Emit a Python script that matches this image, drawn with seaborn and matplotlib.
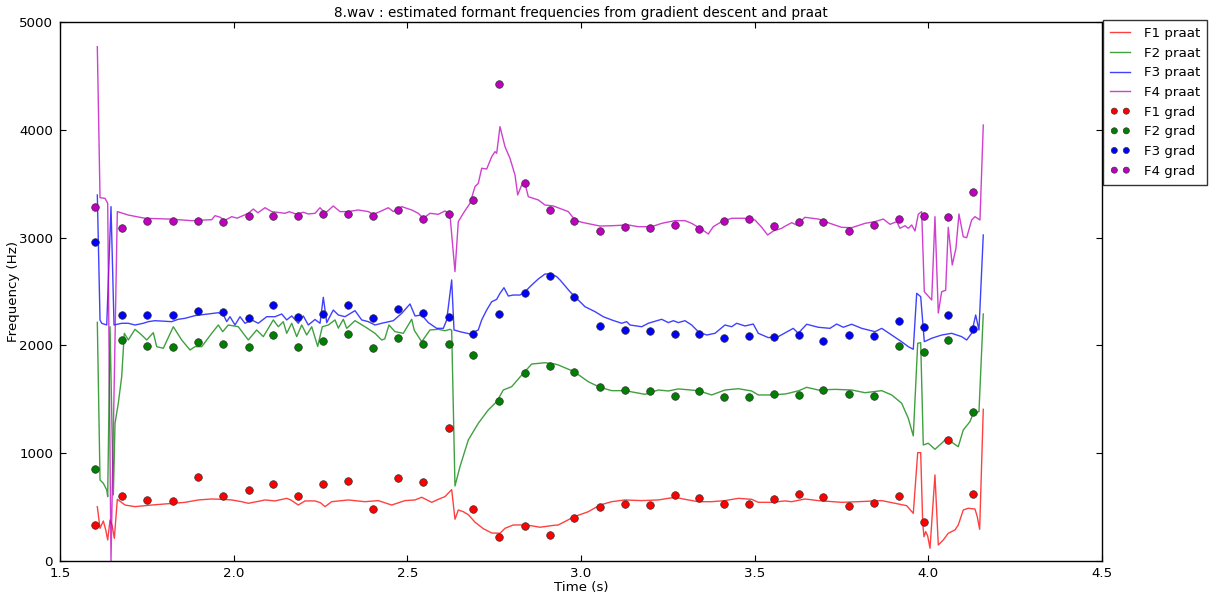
import matplotlib
matplotlib.use("Agg")
import matplotlib.pyplot as plt
import seaborn as sns

# ---- Praat formant tracks (time in s, frequency in Hz) ----
praat_t_f1 = [1.6074, 1.6152, 1.6247, 1.6316, 1.6373, 1.6440, 1.6500, 1.6564, 1.6650, 1.6678,
              1.6871, 1.7159, 1.7640, 1.8262, 1.8599, 1.8982, 1.9368, 1.9684, 1.9943, 2.0231,
              2.0421, 2.0663, 2.0902, 2.1190, 2.1527, 2.1650, 2.1861, 2.2054, 2.2342, 2.2500,
              2.2630, 2.2822, 2.3300, 2.3781, 2.4164, 2.4550, 2.4933, 2.5221, 2.5414, 2.5702,
              2.5892, 2.6085, 2.6277, 2.6372, 2.6468, 2.6611, 2.6755, 2.6948, 2.7186, 2.7429,
              2.7668, 2.7812, 2.8051, 2.8436, 2.8820, 2.9205, 2.9347, 2.9807, 3.0210, 3.0547,
              3.0884, 3.1267, 3.1748, 3.2226, 3.2706, 3.2994, 3.3377, 3.3763, 3.4146, 3.4529,
              3.4915, 3.5105, 3.5490, 3.5873, 3.6066, 3.6449, 3.6832, 3.7506, 3.7986, 3.8659,
              3.9041, 3.9378, 3.9568, 3.9695, 3.9781, 3.9839, 3.9876, 3.9925, 3.9983, 4.0049,
              4.0192, 4.0288, 4.0431, 4.0575, 4.0768, 4.0863, 4.1007, 4.1150, 4.1344, 4.1410,
              4.1479, 4.1583]
praat_f1 = [504, 303, 371, 288, 195, 380, 330, 210, 572, 566,
            519, 504, 519, 535, 544, 566, 575, 572, 566, 550,
            535, 550, 566, 557, 581, 565, 519, 557, 557, 540,
            504, 550, 566, 550, 560, 519, 560, 566, 591, 544,
            572, 597, 662, 387, 473, 457, 430, 360, 300, 260,
            257, 303, 334, 334, 313, 330, 334, 411, 457, 519,
            550, 566, 560, 566, 591, 572, 550, 550, 560, 581,
            572, 544, 544, 557, 550, 575, 560, 544, 550, 560,
            535, 513, 442, 1005, 1005, 350, 225, 272, 232, 118,
            798, 148, 195, 257, 288, 334, 473, 489, 482, 411,
            294, 1407]

praat_t_f2 = [1.6074, 1.6152, 1.6247, 1.6345, 1.6373, 1.6440, 1.6535, 1.6584, 1.6678, 1.6776,
              1.6851, 1.6966, 1.7159, 1.7352, 1.7496, 1.7686, 1.7784, 1.7974, 1.8262, 1.8504,
              1.8743, 1.8887, 1.9080, 1.9368, 1.9558, 1.9684, 1.9846, 2.0133, 2.0421, 2.0663,
              2.0853, 2.1141, 2.1285, 2.1429, 2.1527, 2.1671, 2.1815, 2.1959, 2.2103, 2.2247,
              2.2420, 2.2552, 2.2725, 2.2918, 2.3013, 2.3157, 2.3254, 2.3493, 2.3781, 2.4069,
              2.4262, 2.4350, 2.4472, 2.4645, 2.4884, 2.5126, 2.5200, 2.5414, 2.5653, 2.5892,
              2.6085, 2.6228, 2.6277, 2.6372, 2.6516, 2.6755, 2.7043, 2.7331, 2.7573, 2.7763,
              2.8005, 2.8293, 2.8581, 2.8964, 2.9252, 2.9347, 2.9807, 3.0210, 3.0547, 3.0884,
              3.1267, 3.1843, 3.2226, 3.2516, 3.2802, 3.3377, 3.3763, 3.4146, 3.4529, 3.4915,
              3.5105, 3.5490, 3.5873, 3.5968, 3.6276, 3.6498, 3.6832, 3.7313, 3.7794, 3.8178,
              3.8659, 3.8946, 3.9233, 3.9424, 3.9568, 3.9695, 3.9781, 3.9856, 4.0000, 4.0192,
              4.0385, 4.0529, 4.0719, 4.0863, 4.1007, 4.1199, 4.1294, 4.1459, 4.1583]
praat_f2 = [2214, 751, 721, 659, 597, 2173, 612, 1277, 1463, 1710,
            2112, 2050, 2149, 2096, 2050, 2118, 1988, 1973, 2173, 2050,
            1957, 1988, 1988, 2112, 2189, 2127, 2189, 2173, 2050, 2143,
            2081, 2236, 2173, 2220, 2112, 2205, 2081, 2189, 2096, 2173,
            1990, 2173, 2189, 2236, 2160, 2242, 2158, 2229, 2173, 2112,
            2050, 2060, 2189, 2127, 2112, 2242, 2140, 2034, 2143, 2149,
            2136, 2149, 2140, 696, 875, 1122, 1277, 1401, 1478, 1586,
            1617, 1725, 1827, 1839, 1827, 1818, 1756, 1663, 1611, 1580,
            1580, 1546, 1586, 1577, 1596, 1580, 1540, 1586, 1598, 1577,
            1540, 1540, 1549, 1555, 1580, 1611, 1586, 1592, 1586, 1561,
            1580, 1540, 1463, 1324, 1160, 2019, 2025, 1076, 1092, 1036,
            1092, 1138, 1092, 1060, 1215, 1292, 1370, 1385, 2291]

praat_t_f3 = [1.6074, 1.6152, 1.6201, 1.6345, 1.6468, 1.6555, 1.6776, 1.6966, 1.7159, 1.7398,
              1.7542, 1.7735, 1.8216, 1.8406, 1.8599, 1.8887, 1.9270, 1.9558, 1.9707, 1.9800,
              1.9894, 2.0038, 2.0182, 2.0326, 2.0519, 2.0709, 2.0951, 2.1190, 2.1383, 2.1527,
              2.1671, 2.1861, 2.2005, 2.2149, 2.2342, 2.2486, 2.2581, 2.2679, 2.2868, 2.3013,
              2.3205, 2.3493, 2.3686, 2.3876, 2.4069, 2.4262, 2.4596, 2.4838, 2.5077, 2.5221,
              2.5414, 2.5604, 2.5846, 2.6036, 2.6134, 2.6277, 2.6344, 2.6516, 2.6804, 2.7043,
              2.7141, 2.7285, 2.7429, 2.7573, 2.7668, 2.7783, 2.7907, 2.8051, 2.8244, 2.8388,
              2.8581, 2.8771, 2.8964, 2.9157, 2.9301, 2.9396, 2.9683, 3.0115, 3.0403, 3.0642,
              3.0884, 3.1172, 3.1316, 3.1411, 3.1748, 3.1938, 3.2324, 3.2516, 3.2660, 3.2802,
              3.2994, 3.3187, 3.3377, 3.3619, 3.3858, 3.4146, 3.4339, 3.4483, 3.4722, 3.4961,
              3.5105, 3.5393, 3.5680, 3.5873, 3.6112, 3.6256, 3.6498, 3.6832, 3.7169, 3.7362,
              3.7552, 3.7794, 3.8083, 3.8466, 3.8659, 3.8946, 3.9233, 3.9424, 3.9568, 3.9666,
              3.9781, 3.9885, 4.0098, 4.0385, 4.0673, 4.0961, 4.1105, 4.1248, 4.1364, 4.1459,
              4.1583]
praat_f3 = [3395, 2236, 2205, 2189, 3287, 2189, 2205, 2205, 2189, 2205,
            2220, 2229, 2220, 2242, 2251, 2276, 2291, 2303, 2282, 2220,
            2266, 2189, 2266, 2205, 2236, 2205, 2266, 2266, 2291, 2236,
            2273, 2205, 2273, 2189, 2240, 2205, 2446, 2211, 2328, 2282,
            2266, 2322, 2236, 2220, 2189, 2205, 2229, 2297, 2384, 2273,
            2282, 2211, 2158, 2158, 2236, 2607, 2143, 2127, 2106, 2143,
            2236, 2328, 2405, 2427, 2483, 2535, 2458, 2467, 2467, 2498,
            2560, 2616, 2662, 2662, 2637, 2607, 2498, 2359, 2313, 2266,
            2236, 2205, 2220, 2189, 2173, 2205, 2242, 2211, 2229, 2211,
            2229, 2189, 2127, 2096, 2112, 2189, 2173, 2205, 2180, 2198,
            2112, 2072, 2081, 2115, 2158, 2112, 2196, 2168, 2158, 2198,
            2168, 2196, 2158, 2127, 2158, 2096, 2034, 1988, 1964, 2483,
            2452, 2034, 2066, 2096, 2112, 2081, 2050, 2112, 2282, 2143,
            3024]

praat_t_f4 = [1.6074, 1.6152, 1.6296, 1.6373, 1.6468, 1.6650, 1.6966, 1.7447, 1.8118, 1.8792,
              1.9368, 1.9463, 1.9600, 1.9751, 1.9943, 2.0100, 2.0421, 2.0565, 2.0700, 2.0902,
              2.1095, 2.1478, 2.1600, 2.1815, 2.2000, 2.2149, 2.2342, 2.2486, 2.2630, 2.2868,
              2.3061, 2.3300, 2.3588, 2.3876, 2.4020, 2.4213, 2.4452, 2.4596, 2.4838, 2.5126,
              2.5316, 2.5460, 2.5653, 2.5892, 2.6085, 2.6228, 2.6372, 2.6468, 2.6611, 2.6804,
              2.6948, 2.7043, 2.7141, 2.7285, 2.7429, 2.7524, 2.7573, 2.7668, 2.7812, 2.7956,
              2.8100, 2.8178, 2.8293, 2.8388, 2.8483, 2.8771, 2.8964, 2.9205, 2.9635, 2.9827,
              3.0020, 3.0547, 3.0884, 3.1362, 3.1650, 3.2036, 3.2324, 3.2706, 3.2994, 3.3187,
              3.3426, 3.3570, 3.3665, 3.3809, 3.4051, 3.4339, 3.4722, 3.5010, 3.5203, 3.5375,
              3.5536, 3.5778, 3.5873, 3.6066, 3.6210, 3.6449, 3.6832, 3.7169, 3.7506, 3.7794,
              3.8178, 3.8466, 3.8705, 3.8897, 3.9090, 3.9184, 3.9329, 3.9424, 3.9522, 3.9617,
              3.9712, 3.9810, 3.9885, 4.0098, 4.0192, 4.0288, 4.0385, 4.0500, 4.0575, 4.0690,
              4.0796, 4.0883, 4.1007, 4.1105, 4.1248, 4.1344, 4.1488, 4.1583]
praat_f4 = [4771, 3370, 3364, 3318, 0, 3241, 3209, 3179, 3172, 3157,
            3166, 3203, 3190, 3160, 3194, 3180, 3225, 3265, 3230, 3277,
            3241, 3225, 3240, 3216, 3235, 3219, 3225, 3277, 3225, 3293,
            3241, 3241, 3256, 3241, 3216, 3241, 3277, 3241, 3287, 3256,
            3225, 3179, 3225, 3216, 3247, 3210, 2684, 3148, 3225, 3318,
            3472, 3503, 3643, 3636, 3750, 3797, 3782, 4029, 3843, 3735,
            3580, 3395, 3488, 3503, 3379, 3349, 3302, 3293, 3241, 3163,
            3142, 3107, 3110, 3117, 3101, 3101, 3132, 3157, 3157, 3132,
            3086, 3055, 3033, 3101, 3148, 3179, 3179, 3163, 3095, 3024,
            3061, 3086, 3105, 3138, 3117, 3188, 3172, 3132, 3095, 3092,
            3132, 3148, 3172, 3123, 3148, 3086, 3110, 3086, 3117, 3061,
            3216, 3241, 2498, 2421, 3194, 2300, 2498, 2511, 3095, 2746,
            2900, 3219, 3008, 2999, 3163, 3194, 3163, 4044]

# ---- Gradient-descent estimates, one frame every ~72 ms ----
grad_t = [1.601, 1.679, 1.751, 1.825, 1.898, 1.968, 2.043, 2.113, 2.185, 2.257,
          2.329, 2.402, 2.474, 2.546, 2.619, 2.689, 2.764, 2.840, 2.911, 2.981,
          3.055, 3.127, 3.199, 3.271, 3.340, 3.412, 3.483, 3.555, 3.628, 3.698,
          3.772, 3.843, 3.915, 3.987, 4.057, 4.129]
grad_f1 = [331, 600, 563, 557, 779, 600, 662, 717, 606, 711,
           742, 485, 773, 736, 1237, 479, 223, 328, 241, 399,
           504, 532, 519, 609, 588, 526, 532, 578, 625, 591,
           510, 538, 606, 365, 1122, 619]
grad_f2 = [853, 2047, 1997, 1985, 2034, 2016, 1985, 2096, 1985, 2041,
           2103, 1979, 2072, 2016, 2016, 1911, 1484, 1747, 1806, 1750,
           1617, 1586, 1574, 1533, 1574, 1518, 1524, 1552, 1543, 1586,
           1546, 1530, 1997, 1936, 2050, 1379]
grad_f3 = [2959, 2279, 2282, 2279, 2322, 2310, 2254, 2372, 2263, 2291,
           2378, 2254, 2341, 2297, 2266, 2103, 2291, 2489, 2644, 2446,
           2180, 2146, 2133, 2103, 2103, 2072, 2084, 2078, 2096, 2041,
           2096, 2090, 2226, 2171, 2282, 2152]
grad_f4 = [3284, 3086, 3154, 3154, 3154, 3148, 3203, 3203, 3203, 3216,
           3216, 3203, 3253, 3172, 3216, 3352, 4425, 3506, 3259, 3154,
           3064, 3101, 3092, 3120, 3077, 3157, 3172, 3107, 3142, 3142,
           3058, 3117, 3172, 3200, 3191, 3420]

formant_names = ["F1", "F2", "F3", "F4"]
formant_colors = ["#ff0000", "#008000", "#0000ff", "#bf00bf"]

plt.rcParams.update({
    "font.family": ["DejaVu Sans"],
    "font.size": 9.6,
    "xtick.direction": "in",
    "ytick.direction": "in",
    "xtick.top": True,
    "ytick.right": True,
    "xtick.major.size": 4,
    "ytick.major.size": 4,
    "xtick.major.pad": 4,
    "ytick.major.pad": 5,
    "axes.linewidth": 1.0,
})

fig = plt.figure(figsize=(12.1, 5.94), dpi=100, facecolor="white")
ax = fig.add_axes([0.0496, 0.0556, 0.8611, 0.9074])

praat_series = [(praat_t_f1, praat_f1), (praat_t_f2, praat_f2),
                (praat_t_f3, praat_f3), (praat_t_f4, praat_f4)]
for name, color, (tt, vv) in zip(formant_names, formant_colors, praat_series):
    sns.lineplot(x=tt, y=vv, ax=ax, color=color, alpha=0.75, linewidth=1.0,
                 estimator=None, sort=False, label=f"{name} praat", legend=False)

grad_series = [grad_f1, grad_f2, grad_f3, grad_f4]
for name, color, vv in zip(formant_names, formant_colors, grad_series):
    sns.scatterplot(x=grad_t, y=vv, ax=ax, color=color, s=30, edgecolor="#333333",
                    linewidth=0.5, label=f"{name} grad", legend=False, zorder=3)

ax.set_xlim(1.5, 4.5)
ax.set_ylim(0, 5000)
ax.set_xticks([1.5, 2.0, 2.5, 3.0, 3.5, 4.0, 4.5])
ax.set_yticks([0, 1000, 2000, 3000, 4000, 5000])
ax.set_xlabel("Time (s)", labelpad=1)
ax.set_ylabel("Frequency (Hz)", labelpad=-1)
ax.set_title("8.wav : estimated formant frequencies from gradient descent and praat",
             fontsize=9.8, pad=3.5)

handles, labels = ax.get_legend_handles_labels()
leg = ax.legend(handles, labels, loc="upper left", bbox_to_anchor=(1.001, 1.004),
                borderaxespad=0, scatterpoints=2, scatteryoffsets=[0.5], markerscale=0.8,
                handlelength=1.5, handletextpad=1.0, labelspacing=0.5,
                borderpad=0.55, fancybox=False, frameon=True, fontsize=9.6)
leg.get_frame().set_edgecolor("black")
leg.get_frame().set_linewidth(1.0)

fig.savefig("out.png", dpi=100, facecolor="white")
